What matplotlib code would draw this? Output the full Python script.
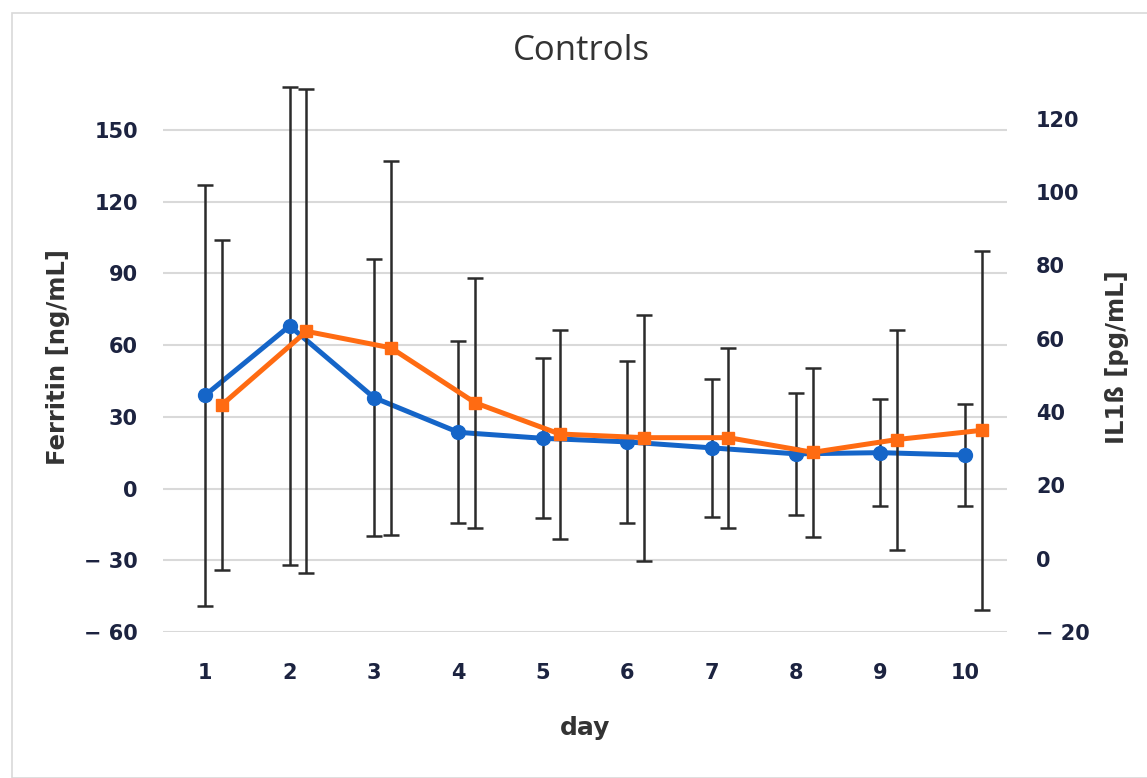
import numpy as np
import matplotlib
matplotlib.use("Agg")
import matplotlib.pyplot as plt
from matplotlib.ticker import FuncFormatter, FixedLocator
from matplotlib.patches import Rectangle

# data
days = [1, 2, 3, 4, 5, 6, 7, 8, 9, 10]
ferritin = [39, 68, 38, 23.5, 21, 19.5, 17, 14.5, 15, 14]
ferritin_err = [88, 100, 58, 38, 33.5, 34, 29, 25.5, 22.5, 21.5]
il1b = [42, 62, 57.5, 42.5, 34, 33, 33, 29, 32.5, 35]
il1b_err = [45, 66, 51, 34, 28.5, 33.5, 24.5, 23, 30, 49]

left_ticks = [-60, -30, 0, 30, 60, 90, 120, 150]
right_ticks = [-20, 0, 20, 40, 60, 80, 100, 120]

blue = "#1565c8"
orange = "#ff6b12"
tick_col = "#1c2340"
err_col = "#2b2b2b"
lab_col = "#333333"

def fmt(v, pos):
    v = int(round(v))
    return "\u2212 %d" % abs(v) if v < 0 else "%d" % v

fig = plt.figure(figsize=(11.47, 7.78), dpi=100)
fig.patches.append(Rectangle((12 / 1147, 0), 1.0, 1 - 13 / 778, transform=fig.transFigure,
                             fill=False, edgecolor="#d9d9d9", linewidth=1.2))

ax = fig.add_axes([163 / 1147, 1 - 632 / 778, (1007 - 163) / 1147, (632 - 82) / 778])
ax2 = ax.twinx()

x = np.array(days, dtype=float)
off = 0.2

ax.errorbar(x, ferritin, yerr=ferritin_err, fmt="none", ecolor=err_col,
            elinewidth=1.8, capsize=5.5, capthick=1.8, zorder=2)
ax.plot(x, ferritin, color=blue, lw=3.6, marker="o", ms=10, zorder=3)

ax2.errorbar(x + off, il1b, yerr=il1b_err, fmt="none", ecolor=err_col,
             elinewidth=1.8, capsize=5.5, capthick=1.8, zorder=2)
ax2.plot(x + off, il1b, color=orange, lw=3.6, marker="s", ms=9, zorder=3)

ax.set_xlim(0.5, 10.5)
ax.set_ylim(-60, 170)
ax2.set_ylim(-20, 130)
ax.yaxis.set_major_locator(FixedLocator(left_ticks))
ax2.yaxis.set_major_locator(FixedLocator(right_ticks))
ax.yaxis.set_major_formatter(FuncFormatter(fmt))
ax2.yaxis.set_major_formatter(FuncFormatter(fmt))
ax.set_xticks(days)
ax.set_xticklabels([str(d) for d in days])

ax.grid(axis="y", color="#d9d9d9", lw=1.5)
ax.set_axisbelow(True)
for a in (ax, ax2):
    for s in a.spines.values():
        s.set_visible(False)
    a.tick_params(length=0, labelsize=15, labelcolor=tick_col)
    for lab in a.get_yticklabels() + a.get_xticklabels():
        lab.set_fontweight("bold")
ax.tick_params(axis="y", pad=18)
ax2.tick_params(axis="y", pad=21)
ax.tick_params(axis="x", pad=22)

ax.set_xlabel("day", fontsize=18, fontweight="bold", color=lab_col, labelpad=24)
ax.set_ylabel("Ferritin [ng/mL]", fontsize=17.5, fontweight="bold", color=lab_col,
              labelpad=10)
ax2.set_ylabel("IL1ß [pg/mL]", fontsize=17.5, fontweight="bold", color=lab_col,
               labelpad=11)

fig.text(0.507, 1 - 51 / 778, "Controls", ha="center", va="center", fontsize=25,
         color=lab_col, family="Open Sans")

fig.savefig("out.png", dpi=100)
